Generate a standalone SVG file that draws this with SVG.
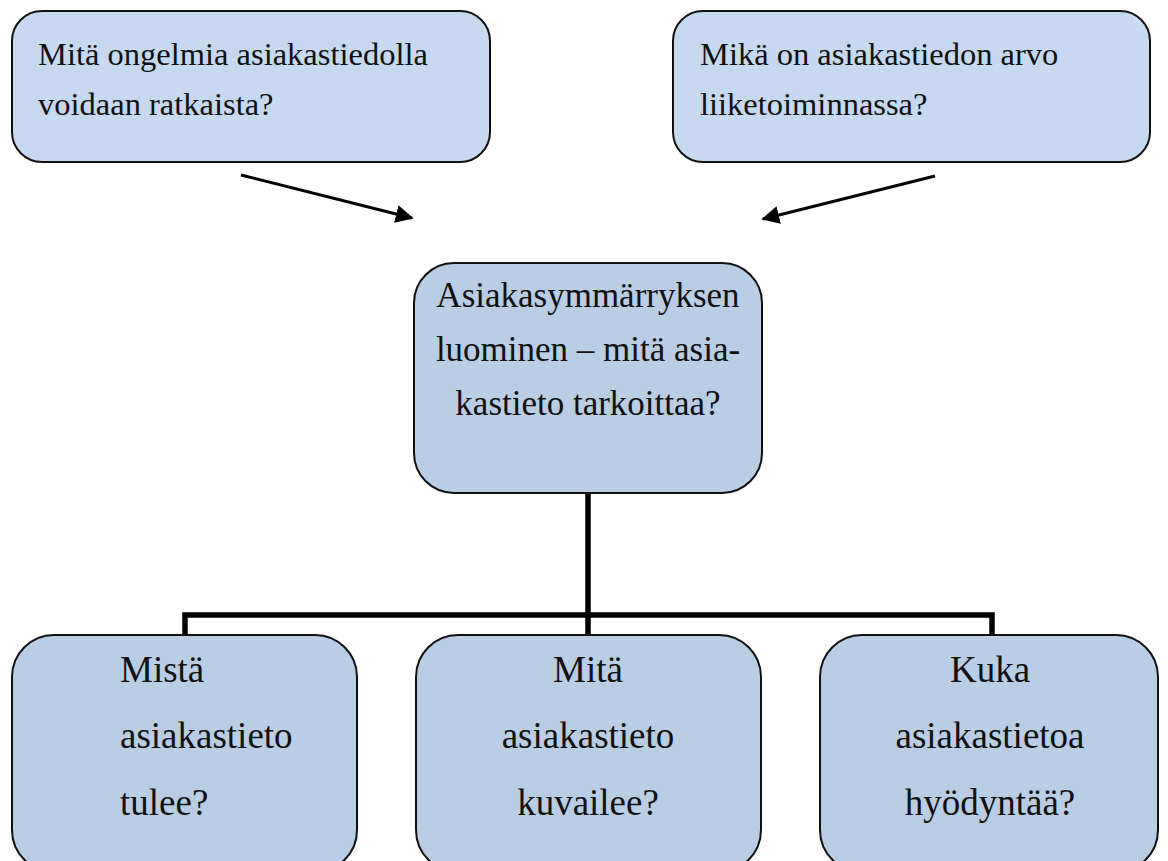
<svg xmlns="http://www.w3.org/2000/svg" width="1168" height="861" viewBox="0 0 1168 861">
<style>
.box{stroke:#111;stroke-width:2}
.top{fill:#c6d9f1}
.mid{fill:#b9cde5}
text{font-family:"Liberation Serif","DejaVu Serif",serif;fill:#111}
.t1{font-size:32.5px}
.t2{font-size:35px}
.t3{font-size:37px}
.arr{stroke:#000;stroke-width:3;fill:none}
.conn{stroke:#000;stroke-width:5.5;fill:none}
</style>
<defs>
<marker id="ah" viewBox="0 0 10 10" refX="9" refY="5" markerWidth="6" markerHeight="6" orient="auto" markerUnits="strokeWidth">
<path d="M0,0 L10,5 L0,10 z" fill="#000"/>
</marker>
</defs>
<g id="connectors">
<line class="arr" x1="241" y1="175" x2="412" y2="218" marker-end="url(#ah)"/>
<line class="arr" x1="935" y1="176" x2="763" y2="219" marker-end="url(#ah)"/>
<polyline class="conn" points="588,493 588,615"/>
<polyline class="conn" points="185,636 185,615 992,615 992,636"/>
<polyline class="conn" points="588,615 588,636"/>
</g>
<g id="n1">
<rect class="box top" x="12" y="11" width="478" height="151" rx="30"/>
<text class="t1" x="38" y="65">Mitä ongelmia asiakastiedolla</text>
<text class="t1" x="38" y="115">voidaan ratkaista?</text>
</g>
<g id="n2">
<rect class="box top" x="673" y="11" width="477" height="151" rx="30"/>
<text class="t1" x="700" y="65">Mikä on asiakastiedon arvo</text>
<text class="t1" x="700" y="115">liiketoiminnassa?</text>
</g>
<g id="n3">
<rect class="box mid" x="414" y="263" width="348" height="230" rx="40"/>
<text class="t2" x="588" y="307" text-anchor="middle">Asiakasymmärryksen</text>
<text class="t2" x="588" y="361" text-anchor="middle">luominen – mitä asia-</text>
<text class="t2" x="588" y="415" text-anchor="middle">kastieto tarkoittaa?</text>
</g>
<g id="n4">
<rect class="box mid" x="12" y="635" width="345" height="237" rx="42"/>
<text class="t3" x="120" y="682">Mistä</text>
<text class="t3" x="120" y="748">asiakastieto</text>
<text class="t3" x="120" y="815">tulee?</text>
</g>
<g id="n5">
<rect class="box mid" x="416" y="635" width="345" height="237" rx="42"/>
<text class="t3" x="588" y="682" text-anchor="middle">Mitä</text>
<text class="t3" x="588" y="748" text-anchor="middle">asiakastieto</text>
<text class="t3" x="588" y="815" text-anchor="middle">kuvailee?</text>
</g>
<g id="n6">
<rect class="box mid" x="820" y="635" width="338" height="237" rx="42"/>
<text class="t3" x="990" y="682" text-anchor="middle">Kuka</text>
<text class="t3" x="990" y="748" text-anchor="middle">asiakastietoa</text>
<text class="t3" x="990" y="815" text-anchor="middle">hyödyntää?</text>
</g>
</svg>
